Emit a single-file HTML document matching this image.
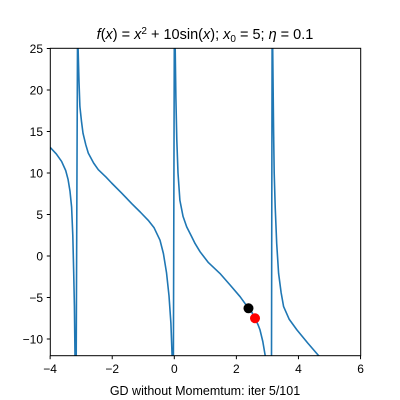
<!DOCTYPE html>
<html><head><meta charset="utf-8"><style>
html,body{margin:0;padding:0;background:#fff;overflow:hidden;width:400px;height:400px;}
svg{display:block;}
svg text{font-family:"Liberation Sans","DejaVu Sans",sans-serif;}
</style></head><body>
<svg width="400" height="400" viewBox="0 0 400 400">
<defs><clipPath id="clip"><rect x="50.3" y="48.3" width="310.4" height="307.4"/></clipPath></defs>
<rect x="0" y="0" width="400" height="400" fill="#fff"/>
<text x="205" y="39" text-anchor="middle" font-size="14.5" font-family="DejaVu Sans,sans-serif"><tspan font-style="italic">f</tspan>(<tspan font-style="italic">x</tspan>) = <tspan font-style="italic">x</tspan><tspan dy="-5" font-size="10">2</tspan><tspan dy="5"> + 10sin(</tspan><tspan font-style="italic">x</tspan>); <tspan font-style="italic">x</tspan><tspan dy="3" font-size="10">0</tspan><tspan dy="-3"> = 5; </tspan><tspan font-style="italic">η</tspan> = 0.1</text>
<g id="ticks"></g>
<g id="plot" clip-path="url(#clip)"></g>
<rect x="50.3" y="48.3" width="310.4" height="307.4" fill="none" stroke="#000" stroke-width="1"/>
<text x="205" y="395" text-anchor="middle" font-size="12.5">GD without Momemtum: iter 5/101</text>
</svg>
<script>
const xTicks=[-4,-2,0,2,4,6];
const yTicks=[-10,-5,0,5,10,15,20,25];
const curveX=[-4,-3.8,-3.63,-3.5,-3.42,-3.36,-3.31,-3.27,-3.24,-3.22,-3.2,-3.16,-3.12,
 -3.10,-3.07,-3.04,-2.99,-2.94,-2.85,-2.77,-2.6,-2.45,-2.2,-2.02,-1.7,-1.37,-1.1,-0.84,-0.65,-0.46,-0.35,-0.25,-0.17,-0.11,-0.07,-0.03,0.0,
 0.03,0.05,0.08,0.12,0.18,0.28,0.4,0.55,0.67,0.83,1.1,1.47,1.8,2.12,2.39,2.5,2.6,2.7,2.76,2.85,2.93,3.05,3.13,3.15,
 3.17,3.2,3.22,3.25,3.3,3.36,3.44,3.52,3.7,3.95,4.3,4.65,4.7];
const curveY=[13.1,12.3,11.4,10.3,9.2,7.8,5.9,2.5,-2,-6,-12,-12.5,25.5,
 25,21,18,16.2,14.8,13.4,12.4,11.2,10.4,9.5,8.8,7.6,6.3,5.3,4.3,3.4,1.9,0.3,-2,-4.8,-8.1,-12,-12.5,25.5,
 25,19,14,10,6.7,4.8,3.5,2.4,1.5,0.5,-0.8,-2.1,-3.5,-4.9,-6.3,-6.8,-7.5,-8.3,-8.9,-10.3,-12,-12.5,-12.5,25.5,
 25,15,10,5.9,1.5,-2.1,-4.4,-6.1,-7.6,-8.9,-10.5,-12,-12.2];
const prevPoint=[2.39,-6.3];
const currPoint=[2.6,-7.5];
const X=v=>174.3+v*31.04;
const Y=v=>256-v*8.3;
const NS='http://www.w3.org/2000/svg';
const tk=document.getElementById('ticks'),pl=document.getElementById('plot');
function mk(tag,attrs,parent){const e=document.createElementNS(NS,tag);for(const k in attrs)e.setAttribute(k,attrs[k]);parent.appendChild(e);return e;}
xTicks.forEach(t=>{
 const l=mk('line',{x1:X(t),x2:X(t),y1:355.7,y2:359.2,stroke:'#000'},tk);
 
 
 const s=mk('text',{x:X(t),y:373,'text-anchor':'middle','font-size':'12'},tk);s.textContent=t<0?'\u2212'+(-t):t;
 
 
});
yTicks.forEach(t=>{
 const l=mk('line',{x1:46.8,x2:50.3,y1:Y(t),y2:Y(t),stroke:'#000'},tk);
 
 
 const s=mk('text',{x:43,y:Y(t)+4.3,'text-anchor':'end','font-size':'12'},tk);s.textContent=t<0?'\u2212'+(-t):t;
 
 
});
const pts=curveX.map((x,i)=>X(x).toFixed(1)+','+Y(curveY[i]).toFixed(1)).join(' ');
const line=mk('polyline',{points:pts,fill:'none',stroke:'#1f77b4','stroke-width':'1.6','stroke-linejoin':'round'},pl);


const p1=mk('circle',{cx:X(prevPoint[0]),cy:Y(prevPoint[1]),r:5,fill:'#000'},pl);


const p2=mk('circle',{cx:X(currPoint[0]),cy:Y(currPoint[1]),r:5,fill:'#ff0000'},pl);


</script>
</body></html>
